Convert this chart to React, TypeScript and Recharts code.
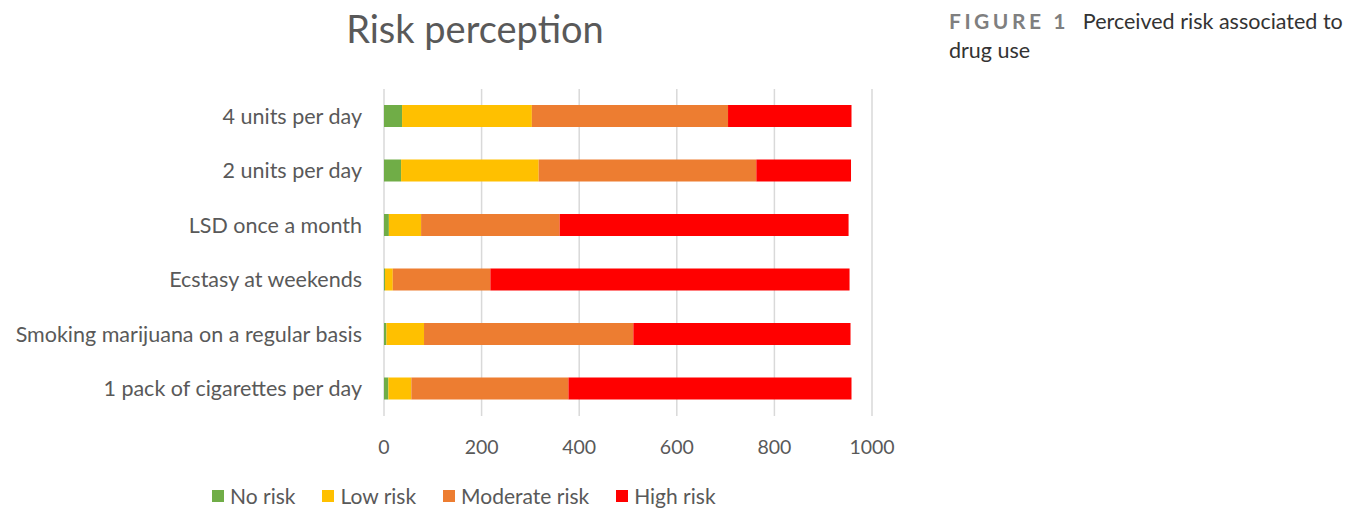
import React from "react";
import { BarChart, Bar, XAxis, YAxis, CartesianGrid } from "recharts";

// categorías de arriba hacia abajo
const categorias = [
  "4 units per day",
  "2 units per day",
  "LSD once a month",
  "Ecstasy at weekends",
  "Smoking marijuana on a regular basis",
  "1 pack of cigarettes per day",
];
const sinRiesgo = [37, 35, 10, 2, 5, 9];
const riesgoBajo = [266, 282, 66, 16, 77, 47];
const riesgoModerado = [402, 446, 284, 200, 429, 322];
const riesgoAlto = [253, 194, 592, 736, 445, 580];
const ticksX = [0, 200, 400, 600, 800, 1000];

const series = [
  { key: "none", name: "No risk", color: "#70AD47" },
  { key: "low", name: "Low risk", color: "#FFC000" },
  { key: "moderate", name: "Moderate risk", color: "#ED7D31" },
  { key: "high", name: "High risk", color: "#FF0000" },
];

const data = categorias.map((cat, i) => ({
  cat,
  none: sinRiesgo[i],
  low: riesgoBajo[i],
  moderate: riesgoModerado[i],
  high: riesgoAlto[i],
}));

const FONT = "Lato, 'Open Sans', sans-serif";
const GRIS = "#595959";

export default function App() {
  return (
    <div style={{ position: "absolute", left: 0, top: 0, width: 1351, height: 508, background: "#fff", fontFamily: FONT }}>
      <div style={{ position: "absolute", left: 0, width: 950, top: 5, textAlign: "center", fontSize: 38, color: GRIS }}>
        Risk perception
      </div>
      <BarChart
        width={940}
        height={508}
        data={data}
        layout="vertical"
        margin={{ top: 89, right: 68, left: 0, bottom: 32 }}
        barSize={22}
        style={{ position: "absolute", left: 0, top: 0 }}
      >
        <CartesianGrid horizontal={false} stroke="#d9d9d9" strokeWidth={1.5} />
        <XAxis
          type="number"
          domain={[0, 1000]}
          ticks={ticksX}
          axisLine={false}
          tickLine={false}
          tickSize={0}
          tickMargin={24}
          height={60}
          tick={{ fill: GRIS, fontSize: 19.5, fontFamily: FONT }}
        />
        <YAxis
          type="category"
          dataKey="cat"
          width={384}
          axisLine={false}
          tickLine={false}
          tickSize={0}
          tickMargin={22}
          interval={0}
          tick={{ fill: GRIS, fontSize: 21.5, fontFamily: FONT }}
        />
        {series.map((s) => (
          <Bar key={s.key} dataKey={s.key} name={s.name} stackId="r" fill={s.color} isAnimationActive={false} />
        ))}
      </BarChart>
      <div style={{ position: "absolute", top: 483, left: 212, display: "flex", gap: 27, fontSize: 21, color: GRIS }}>
        {series.map((s) => (
          <div key={s.key} style={{ display: "flex", alignItems: "center", gap: 6 }}>
            <div style={{ width: 12, height: 12, background: s.color }} />
            <span>{s.name}</span>
          </div>
        ))}
      </div>
      <div style={{ position: "absolute", left: 949, top: 6, width: 402, fontSize: 21.5, lineHeight: "29px", color: "#333" }}>
        <span style={{ fontWeight: 700, fontSize: 21, letterSpacing: 3.5, color: "#7f7f7f", marginRight: 14 }}>FIGURE 1</span>
        Perceived risk associated to
        <br />
        drug use
      </div>
    </div>
  );
}
